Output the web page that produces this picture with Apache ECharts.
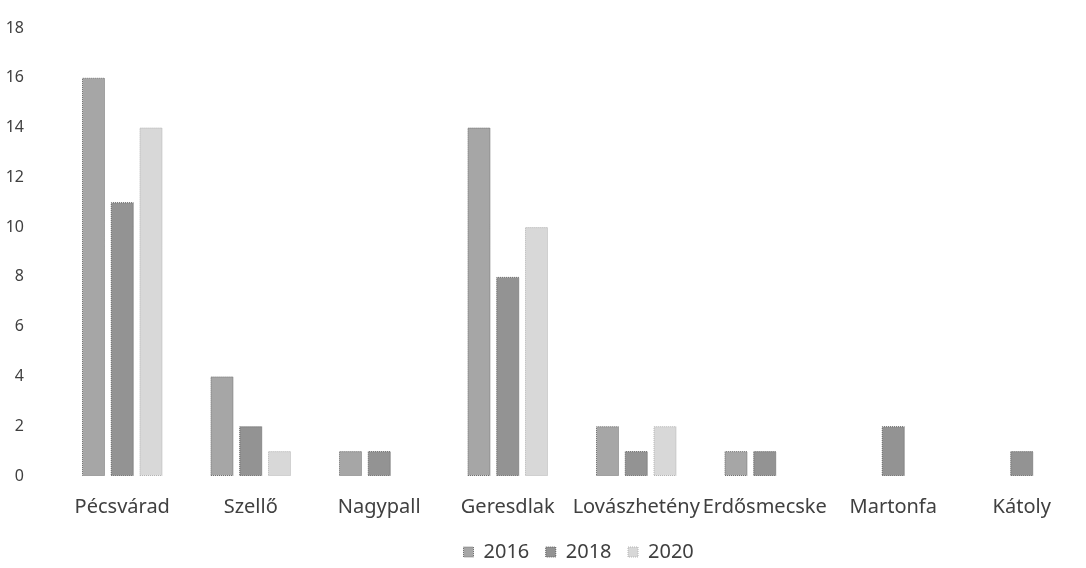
<!DOCTYPE html>
<html><head><meta charset="utf-8">
<script src="https://cdn.jsdelivr.net/npm/echarts@6/dist/echarts.min.js"></script>
<style>html,body{margin:0;padding:0;background:#fff}#c{width:1086px;height:568px}</style>
</head><body><div id="c"></div>
<script>
const categories = ["Pécsvárad","Szellő","Nagypall","Geresdlak","Lovászhetény","Erdősmecske","Martonfa","Kátoly"];
const seriesNames = ["2016","2018","2020"];
const v2016 = [16,4,1,14,2,1,0,0];
const v2018 = [11,2,1,8,1,1,2,1];
const v2020 = [14,1,0,10,2,0,0,0];
const yTicks = [0,2,4,6,8,10,12,14,16,18];

const colors = ["#a6a6a6","#939393","#d8d8d8"];
const borders = ["#707070","#606060","#b4b4b4"];
const vals = [v2016, v2018, v2020];
const chart = echarts.init(document.getElementById('c'));
const font = "'Noto Sans', sans-serif";
chart.setOption({
  animation:false,
  legend:{top:537,left:458,itemWidth:10,itemHeight:10,itemGap:16,
    textStyle:{fontFamily:font,fontSize:20,color:'#404040',padding:[0,0,0,5]},
    data:seriesNames.map((n,i)=>({name:n,icon:'rect',itemStyle:{color:colors[i],borderColor:borders[i],borderWidth:1,borderType:'dotted'}}))},
  grid:{left:58,right:-31,top:28,bottom:92},
  xAxis:{type:'category',data:categories,axisLine:{show:false},axisTick:{show:false},
    axisLabel:{interval:0,margin:21,fontFamily:font,fontSize:20,color:'#404040'}},
  yAxis:{type:'value',min:yTicks[0],max:yTicks[yTicks.length-1],interval:2,
    splitLine:{show:false},axisLine:{show:false},axisTick:{show:false},
    axisLabel:{margin:34,fontFamily:font,fontSize:16,color:'#404040'}},
  series:vals.map((d,i)=>({name:seriesNames[i],type:'bar',barWidth:23,barGap:'25%',
    data:d.map(v=>({value:v,itemStyle:v===0?{borderWidth:0}:{}})),
    itemStyle:{color:colors[i],borderColor:borders[i],borderWidth:1,borderType:'dotted'}}))
});
</script></body></html>
